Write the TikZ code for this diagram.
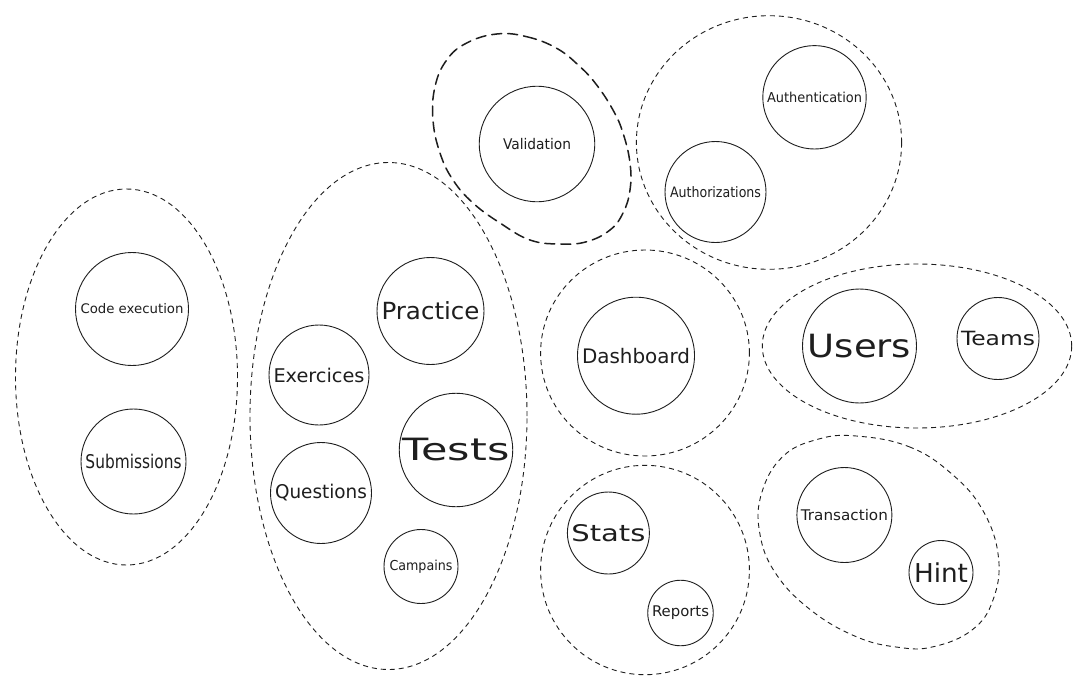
\documentclass[tikz,border=0pt]{standalone}
\usepackage{fontspec}
\setmainfont{DejaVu Sans}
\usepackage{graphicx}
\definecolor{ink}{HTML}{1E1E1E}
\newcommand{\lbl}[3]{\resizebox{#1pt}{\height}{\fontsize{#2}{#2}\selectfont #3}}
\tikzset{
  mod/.style={circle, draw=ink, line width=0.9pt, inner sep=0pt, minimum size=#1, text=ink},
  grp/.style={draw=ink, line width=0.9pt, dash pattern=on 5pt off 4pt},
  vgrp/.style={draw=ink, line width=1.5pt, dash pattern=on 10pt off 6pt, line cap=round},
}
\begin{document}
\begin{tikzpicture}[x=1pt,y=-1pt]
\useasboundingbox[fill=white] (0,0) rectangle (1087,691);

% group outlines
\draw[grp] (126.5,377) ellipse [x radius=111pt, y radius=188pt];
\draw[grp] (388.5,416) ellipse [x radius=138.5pt, y radius=253.5pt];
\draw[grp] (769,142.5) ellipse [x radius=132.6pt, y radius=126.8pt];
\draw[grp] (645,353) ellipse [x radius=104.4pt, y radius=103pt];
\draw[grp] (917,346) ellipse [x radius=154.7pt, y radius=82pt];
\draw[grp] (645,570) ellipse [x radius=104.4pt, y radius=104.7pt];
\draw[grp] plot[smooth cycle, tension=0.7] coordinates {
  (856.3,436) (909,446.7) (951,473.3) (982.6,510) (998.4,556.7) (993,600)
  (972,630) (933.5,646.7) (898.4,647.3) (856.3,636.7) (810.7,610)
  (775.6,573.3) (759.8,533.3) (761.6,493.3) (782.6,456.7) (817.7,439.3)};
\draw[vgrp] plot[smooth cycle, tension=0.7] coordinates {
  (496.7,34) (526.7,36.7) (556.7,48.3) (580,66.7) (596.7,85) (613,110)
  (623,133) (630,163) (630,190) (623,213) (610,230) (586.7,241.7)
  (560,244) (530,240) (500,223) (473,203) (453,180) (440,153)
  (433,120) (435,86.7) (446.7,60) (466.7,43)};

% modules
\node[mod=113pt] (code) at (132,309) {\lbl{103}{13.2}{Code execution}};
\node[mod=105pt] (subm) at (133.5,461.5) {\lbl{96}{18.9}{Submissions}};
\node[mod=107pt] (prac) at (430.5,311) {\lbl{98}{23.6}{Practice}};
\node[mod=100pt] (exer) at (319,375) {\lbl{91}{18.9}{Exercices}};
\node[mod=113.5pt] (tests) at (456,450) {\lbl{107}{30.7}{Tests}};
\node[mod=101pt] (quest) at (321,493) {\lbl{92}{18.9}{Questions}};
\node[mod=74pt] (camp) at (421,566.5) {\lbl{63}{13.7}{Campains}};
\node[mod=115.5pt] (valid) at (537,144) {\lbl{68}{14.7}{Validation}};
\node[mod=103.4pt] (authn) at (814.5,97.3) {\lbl{95}{13.7}{Authentication}};
\node[mod=101pt] (authz) at (715.5,192) {\lbl{91}{14.4}{Authorizations}};
\node[mod=117pt] (dash) at (636,355.7) {\lbl{108}{20}{Dashboard}};
\node[mod=114pt] (users) at (859.5,346) {\lbl{103.5}{32}{Users}};
\node[mod=82pt] (teams) at (998,338.5) {\lbl{74}{19.6}{Teams}};
\node[mod=82pt] (stats) at (608.4,533) {\lbl{74}{22.9}{Stats}};
\node[mod=65.5pt] (reports) at (680.5,613) {\lbl{57}{14.7}{Reports}};
\node[mod=95pt] (trans) at (844.4,515) {\lbl{87}{14.7}{Transaction}};
\node[mod=64pt] (hint) at (941,572.5) {\lbl{54}{26}{Hint}};
\end{tikzpicture}
\end{document}
